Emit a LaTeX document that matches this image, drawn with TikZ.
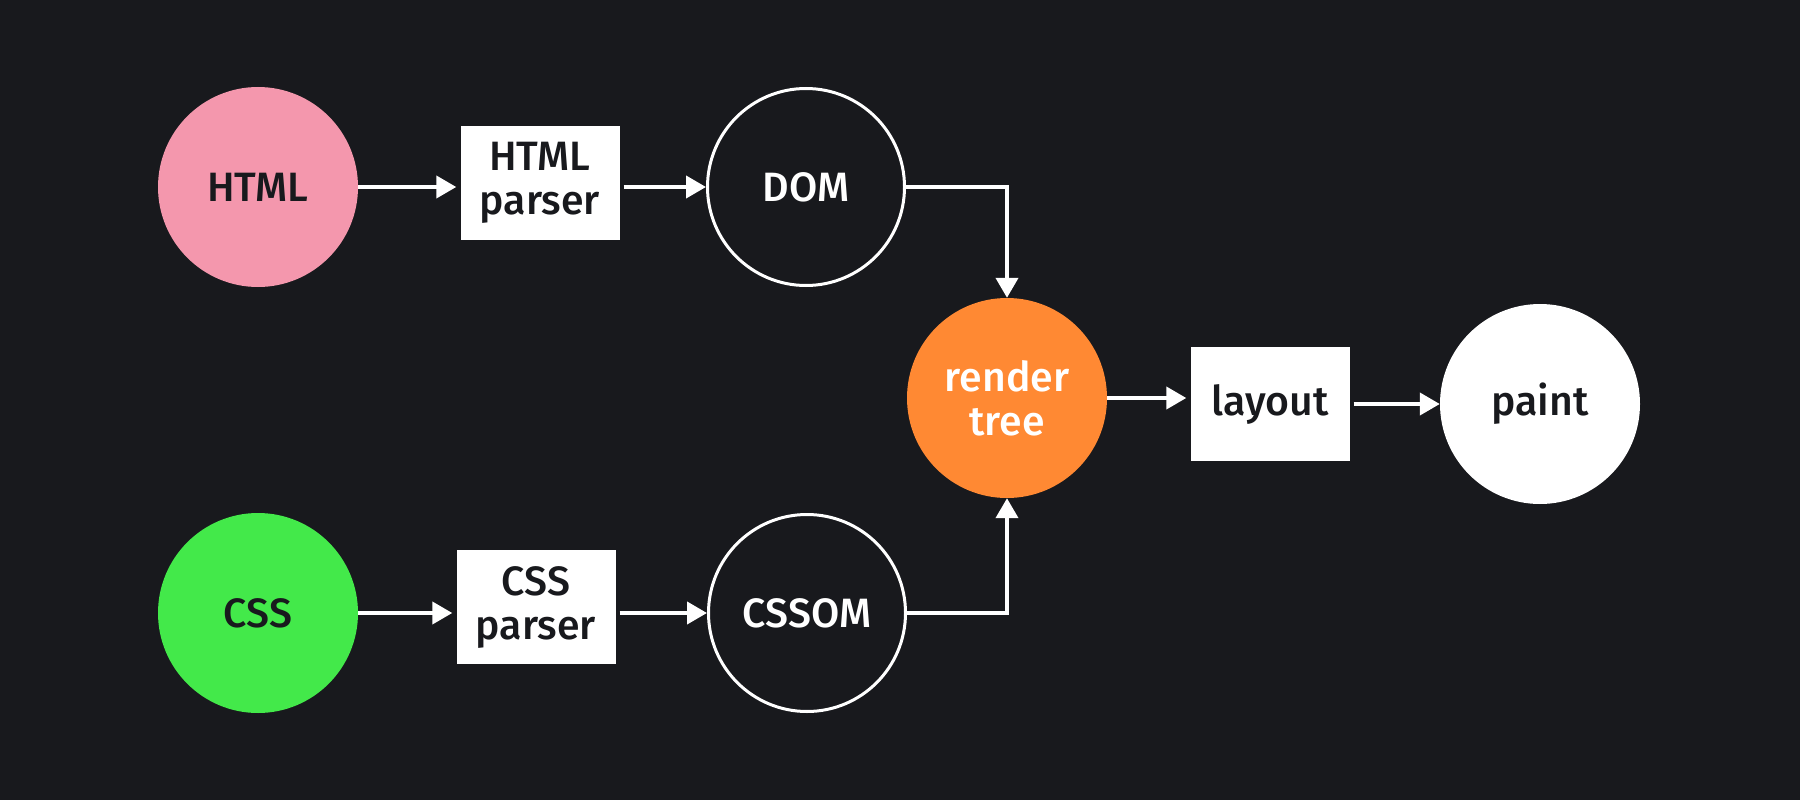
\documentclass[tikz,border=0pt]{standalone}
\usepackage{fontspec}
\setmainfont{Fira Sans Medium}
\usetikzlibrary{arrows.meta}
\definecolor{bgdark}{RGB}{24,25,29}
\definecolor{htmlpink}{RGB}{244,151,173}
\definecolor{cssgreen}{RGB}{67,233,74}
\definecolor{treeorange}{RGB}{255,137,51}
\begin{document}
\begin{tikzpicture}[x = 1pt, y = -1pt,
    stage/.style = {circle, minimum size = 200pt, inner sep = 0pt, align = center,
                    font = \fontsize{41}{44}\selectfont},
    ring/.style = {stage, draw = white, line width = 3pt, minimum size = 197pt, text = white},
    parserbox/.style = {rectangle, fill = white, minimum width = 159pt, minimum height = 114pt,
                        inner sep = 0pt, align = center, text = bgdark,
                        font = \fontsize{41}{44}\selectfont},
    flow/.style = {white, line width = 4pt, -{Triangle[length = 20pt, width = 22pt]}}]
  \fill[bgdark] (0, 0) rectangle (1800, 800);
  \useasboundingbox (0, 0) rectangle (1800, 800);
  % top row
  \node[stage, fill = htmlpink, text = bgdark] (html) at (258, 187) {HTML};
  \node[parserbox] (hparser) at (540, 183) {HTML\\parser};
  \node[ring] (dom) at (806, 187) {DOM};
  % bottom row
  \node[stage, fill = cssgreen, text = bgdark] (css) at (258, 613) {CSS};
  \node[parserbox] (cparser) at (536, 607) {CSS\\parser};
  \node[ring] (cssom) at (807, 613) {CSSOM};
  % right side
  \node[stage, fill = treeorange, text = white] (render) at (1007, 398) {render\\tree};
  \node[parserbox] (layout) at (1270, 404) {layout};
  \node[stage, fill = white, text = bgdark] (paint) at (1540, 404) {paint};
  \draw[flow, shorten > = 4pt] (html.east) -- (html.east -| hparser.west);
  \draw[flow, shorten < = 4pt] (hparser.east |- dom.west) -- (dom.west);
  \draw[flow, shorten > = 4pt] (css.east) -- (css.east -| cparser.west);
  \draw[flow, shorten < = 4pt] (cparser.east |- cssom.west) -- (cssom.west);
  \draw[flow] (dom.east) -| (render.north);
  \draw[flow] (cssom.east) -| (render.south);
  \draw[flow, shorten > = 4pt] (render.east) -- (render.east -| layout.west);
  \draw[flow, shorten < = 4pt] (layout.east) -- (paint.west);
\end{tikzpicture}
\end{document}
